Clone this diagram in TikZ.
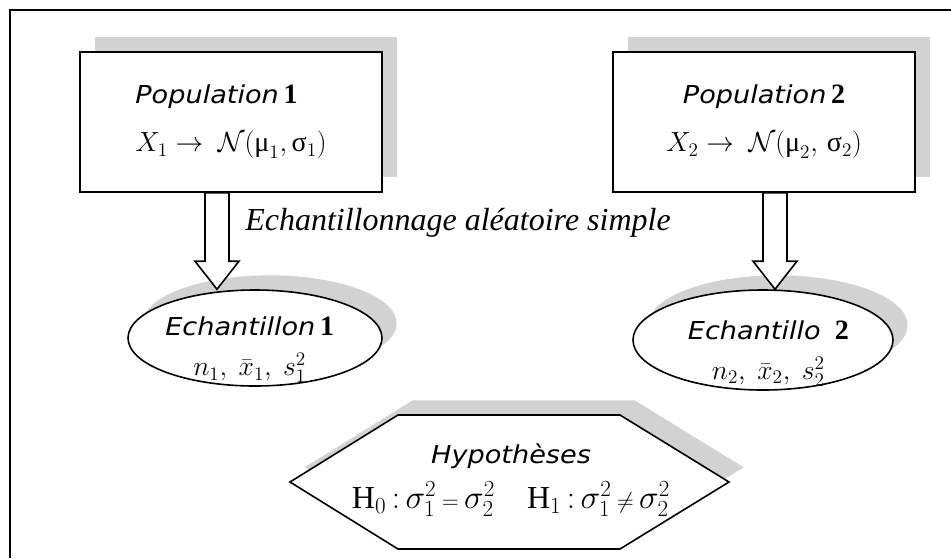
\documentclass[tikz,border=0pt]{standalone}
\usepackage{fontspec}
\usepackage{amsmath}
\setmainfont{Liberation Serif}
\newfontfamily\comicfont[FakeStretch=1.1]{DejaVu Sans}
\usetikzlibrary{calc,shadows,shapes.geometric}
\newcommand\ttl[1]{{\comicfont\itshape\fontsize{18.5}{22}\selectfont #1}}

\begin{document}
\begin{tikzpicture}[x=0.75pt,y=-0.75pt,line width=1.2pt,
 font=\fontsize{21}{36}\selectfont,
 dshadow/.style={drop shadow={shadow xshift=11pt,shadow yshift=11pt,fill=gray!35,opacity=1}},
 box/.style={draw,fill=white,dshadow,minimum width=226.5pt,minimum height=105pt,inner sep=0pt},
 ell/.style={draw,ellipse,fill=white,dshadow,inner sep=0pt},
 lab/.style={align=center,font=\fontsize{21}{30}\selectfont},
 hollow/.style={draw,fill=white,line width=1.2pt}]
\useasboundingbox (0,0) rectangle (951,558);
\draw[line width=1.5pt] (10,558) -- (10,10) -- (951,10);
\node[box,align=left] (pop1) at (231,122) {\ttl{Population}\,\textbf{1}\\$X_1 \rightarrow\ \mathcal{N}(\text{μ}_1,\text{σ}_1)$};
\node[box,align=center] (pop2) at (764,122) {\ttl{Population}\,\textbf{2}\\$X_2 \rightarrow\ \mathcal{N}(\text{μ}_2,\,\text{σ}_2)$};
\node[font=\fontsize{24}{28}\selectfont\itshape] (samp) at (458,223) {Echantillonnage aléatoire simple};
\node[ell,minimum width=190.5pt,minimum height=72pt] (ech1) at (255,338) {};
\node[ell,minimum width=195pt,minimum height=75pt] (ech2) at (763,340) {};
\node[lab] (ech1t) at ([xshift=-4pt,yshift=-9pt]ech1.center) {\ttl{Echantillon}\,\textbf{1}\\$n_1,\ \bar{x}_1,\ s_1^2$};
\node[lab] (ech2t) at ([xshift=4pt,yshift=-10pt]ech2.center) {\ttl{Echantillo}\ \ \textbf{2}\\$n_2,\ \bar{x}_2,\ s_2^2$};
\draw[fill=white,dshadow] (290,482) -- (398,415) -- (620,415) -- (729,482) -- (620,549) -- (398,549) -- cycle;
\node[align=center,font=\fontsize{24}{34}\selectfont] (hyp) at (511,480) {\ttl{Hypothèses}\\$\text{H}_0\,{:}\,\sigma_1^2\,{\scriptstyle =}\,\sigma_2^2\quad \text{H}_1\,{:}\,\sigma_1^2\,{\scriptstyle\neq}\,\sigma_2^2$};
\coordinate (a1) at ([xshift=-10.5pt]pop1.south);
\coordinate (b1) at (a1 |- ech1.north);
\coordinate (a2) at ([xshift=8.25pt]pop2.south);
\coordinate (b2) at (a2 |- ech2.north);
\foreach \s/\t in {a1/b1,a2/b2}
 \draw[hollow] ($(\s)+(-12,0)$) -- ($(\s)+(12,0)$) -- ($(\t)+(12,-28)$) -- ($(\t)+(22,-28)$) -- (\t) -- ($(\t)+(-22,-28)$) -- ($(\t)+(-12,-28)$) -- cycle;
\end{tikzpicture}
\end{document}
